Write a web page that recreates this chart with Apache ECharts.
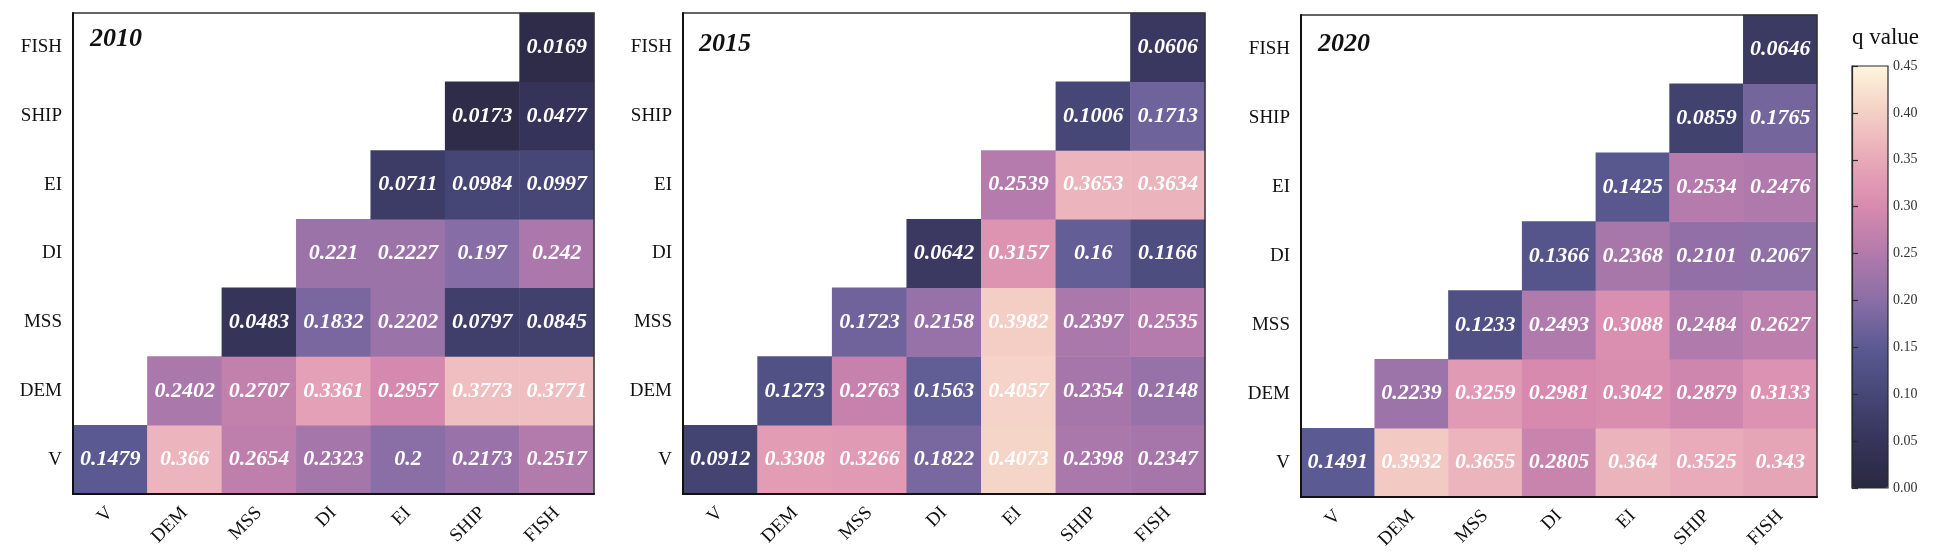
<!DOCTYPE html>
<html>
<head>
<meta charset="utf-8">
<script src="https://cdn.jsdelivr.net/npm/echarts@6/dist/echarts.min.js"></script>
<style>
html,body{margin:0;padding:0;background:#fff;}
#chart{width:1949px;height:559px;}
</style>
</head>
<body>
<div id="chart"></div>
<script>
// Factors (x axis left->right, y axis bottom->top)
const categories = ['V', 'DEM', 'MSS', 'DI', 'EI', 'SHIP', 'FISH'];
const years = ['2010', '2015', '2020'];
const colorTicks = ['0.00','0.05','0.10','0.15','0.20','0.25','0.30','0.35','0.40','0.45'];

// q values, one array per row (row factor paired with itself and the factors to its right)
const q2010 = [
  [0.1479, 0.366, 0.2654, 0.2323, 0.2, 0.2173, 0.2517],   // V
  [0.2402, 0.2707, 0.3361, 0.2957, 0.3773, 0.3771],       // DEM
  [0.0483, 0.1832, 0.2202, 0.0797, 0.0845],               // MSS
  [0.221, 0.2227, 0.197, 0.242],                          // DI
  [0.0711, 0.0984, 0.0997],                               // EI
  [0.0173, 0.0477],                                       // SHIP
  [0.0169]                                                // FISH
];
const q2015 = [
  [0.0912, 0.3308, 0.3266, 0.1822, 0.4073, 0.2398, 0.2347],
  [0.1273, 0.2763, 0.1563, 0.4057, 0.2354, 0.2148],
  [0.1723, 0.2158, 0.3982, 0.2397, 0.2535],
  [0.0642, 0.3157, 0.16, 0.1166],
  [0.2539, 0.3653, 0.3634],
  [0.1006, 0.1713],
  [0.0606]
];
const q2020 = [
  [0.1491, 0.3932, 0.3655, 0.2805, 0.364, 0.3525, 0.343],
  [0.2239, 0.3259, 0.2981, 0.3042, 0.2879, 0.3133],
  [0.1233, 0.2493, 0.3088, 0.2484, 0.2627],
  [0.1366, 0.2368, 0.2101, 0.2067],
  [0.1425, 0.2534, 0.2476],
  [0.0859, 0.1765],
  [0.0646]
];
const qByYear = [q2010, q2015, q2020];

function toCells(rows) {
  const out = [];
  rows.forEach((row, y) => {
    row.forEach((v, k) => out.push([y + k, y, v]));
  });
  return out;
}

const serif = 'Liberation Serif, Times New Roman, serif';
const gridsPos = [
  {left: 73, top: 13, width: 521, height: 481},
  {left: 683, top: 13, width: 522, height: 481},
  {left: 1301, top: 15, width: 516, height: 482}
];
const titlePos = [
  {left: 90, top: 26},
  {left: 699, top: 31},
  {left: 1318, top: 31}
];

const grid = gridsPos.map(g => Object.assign({show: true, borderColor: '#333', borderWidth: 1.5, backgroundColor: 'transparent', z: 5}, g));
grid.push({left: 1852, top: 66, width: 36, height: 422, show: true, borderColor: '#2a2a2a', borderWidth: 1.2, backgroundColor: 'transparent', z: 10});

const xAxis = [], yAxis = [], series = [], title = [];
for (let i = 0; i < 3; i++) {
  xAxis.push({
    type: 'category', gridIndex: i, data: categories, z: 6,
    axisLine: {show: true, lineStyle: {color: '#111', width: 2}},
    axisTick: {show: false},
    splitLine: {show: false},
    axisLabel: {rotate: 45, margin: 16, color: '#111', fontFamily: serif, fontSize: 19}
  });
  yAxis.push({
    type: 'category', gridIndex: i, data: categories, z: 6,
    axisLine: {show: true, lineStyle: {color: '#111', width: 2}},
    axisTick: {show: false},
    splitLine: {show: false},
    axisLabel: {margin: 11, color: '#111', fontFamily: serif, fontSize: 19}
  });
  series.push({
    type: 'heatmap', xAxisIndex: i, yAxisIndex: i,
    data: toCells(qByYear[i]),
    itemStyle: {borderWidth: 0},
    label: {
      show: true, color: '#fff', fontFamily: serif, fontSize: 22,
      fontWeight: 'bold', fontStyle: 'italic',
      formatter: p => String(p.value[2])
    },
    emphasis: {disabled: true}
  });
  title.push({
    text: years[i], left: titlePos[i].left, top: titlePos[i].top, padding: 0,
    textStyle: {fontFamily: serif, fontSize: 26, fontWeight: 'bold', fontStyle: 'italic', color: '#111'}
  });
}
title.push({
  text: 'q value', left: 1852, top: 26, padding: 0,
  textStyle: {fontFamily: serif, fontSize: 23, fontWeight: 'normal', color: '#111'}
});

// colour bar axis
xAxis.push({type: 'value', gridIndex: 3, show: false});
yAxis.push({
  type: 'value', gridIndex: 3, min: 0, max: 0.45, interval: 0.05, position: 'right', z: 11,
  axisLine: {show: true, lineStyle: {color: '#2a2a2a', width: 1.2}},
  axisTick: {show: true, length: 6, inside: false, lineStyle: {color: '#2a2a2a', width: 1.2}},
  splitLine: {show: false},
  axisLabel: {margin: 5, color: '#333', fontFamily: serif, fontSize: 14,
    formatter: v => colorTicks[Math.round(v / 0.05)]}
});

const chart = echarts.init(document.getElementById('chart'), null, {renderer: 'canvas'});
chart.setOption({
  backgroundColor: '#fff',
  animation: false,
  title: title,
  grid: grid,
  xAxis: xAxis,
  yAxis: yAxis,
  visualMap: {
    type: 'continuous', seriesIndex: [0, 1, 2], min: 0, max: 0.45,
    calculable: false, hoverLink: false, realtime: false,
    left: 1852, top: 66, itemWidth: 36, itemHeight: 422, padding: 0,
    orient: 'vertical', text: null, showLabel: false,
    inRange: {
      color: ['#2a2840', '#36345a', '#474777', '#5b5a92', '#8a6ea6', '#b27aac',
              '#d88aae', '#e8a9b9', '#f4cfc5', '#fdf6dc']
    }
  },
  series: series
});
</script>
</body>
</html>
